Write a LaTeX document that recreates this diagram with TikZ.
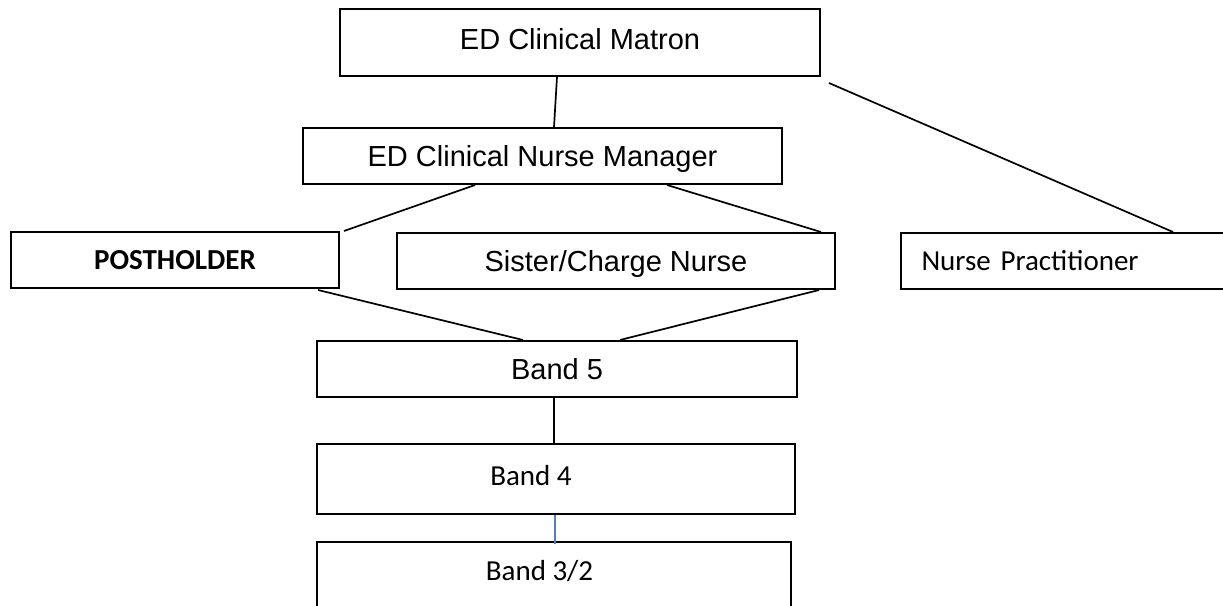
\documentclass[tikz,border=0pt]{standalone}
\usepackage{fontspec}
\usepackage{tikz}
\usetikzlibrary{calc}
\newfontfamily\arialfont{Liberation Sans}
\newfontfamily\calibrifont{Carlito}
\definecolor{linkblue}{HTML}{4F81BD}

\begin{document}
\begin{tikzpicture}[x=1pt, y=-1pt,
  box/.style={draw, line width=2pt, inner sep=0pt},
  arial/.style={font=\arialfont\fontsize{29}{34}\selectfont, text height=21pt, text depth=0pt},
  calibri/.style={font=\calibrifont\fontsize{29}{34}\selectfont, text height=19pt, text depth=0pt},
  link/.style={line width=1.7pt}]
  \clip (0,0) rectangle (1223,605);

  % Top of the chart
  \node[box, arial, text depth=8pt, minimum width=480, minimum height=67] (matron) at (580,42.5) {ED Clinical Matron};
  \node[box, arial, minimum width=479, minimum height=56] (manager) at (542.5,156) {ED Clinical Nurse Manager};

  % Second row
  \node[box, calibri, font=\calibrifont\bfseries\fontsize{29}{34}\selectfont, minimum width=328, minimum height=56] (post) at (175,260) {POSTHOLDER};
  \node[box, arial, minimum width=438, minimum height=56] (sister) at (616,261) {Sister/Charge Nurse};
  \node[box, calibri, inner xsep=21pt, text width=298pt, align=left, minimum height=56] (np) at (1070.5,261) {Nurse Practitioner};

  % Bands
  \node[box, arial, minimum width=480, minimum height=56] (band5) at (557,369) {Band 5};
  \node[box, minimum width=478, minimum height=70,
        label={[calibri, text depth=7pt, xshift=-25pt]center:Band 4}] (band4) at (556,479) {};
  \node[box, minimum width=474, minimum height=78,
        label={[calibri, text depth=21pt, xshift=-14.5pt]center:Band 3/2}] (band32) at (554,581) {};

  % Connectors
  \draw[link] ($(matron.south)+(-23,0)$) -- ($(manager.north)+(11.5,0)$);
  \draw[link] ($(matron.south east)+(8,6)$) -- ($(np.north)+(102.5,0)$);
  \draw[link] ($(manager.south)+(-67.5,0)$) -- ($(post.north east)+(4,0)$);
  \draw[link] ($(manager.south)+(124.5,0)$) -- ($(sister.north east)+(-15,0)$);
  \draw[link] ($(post.south east)+(-22,1)$) -- ($(band5.north)+(-34,0)$);
  \draw[link] ($(sister.south east)+(-17,0)$) -- ($(band5.north)+(63,0)$);
  \draw[link] ($(band5.south)+(-3,0)$) -- ($(band4.north)+(-2,0)$);
  \draw[link, linkblue, line width=1.5pt] ($(band4.south)+(-1,0)$) -- ($(band32.north)+(1,3)$);
\end{tikzpicture}
\end{document}
